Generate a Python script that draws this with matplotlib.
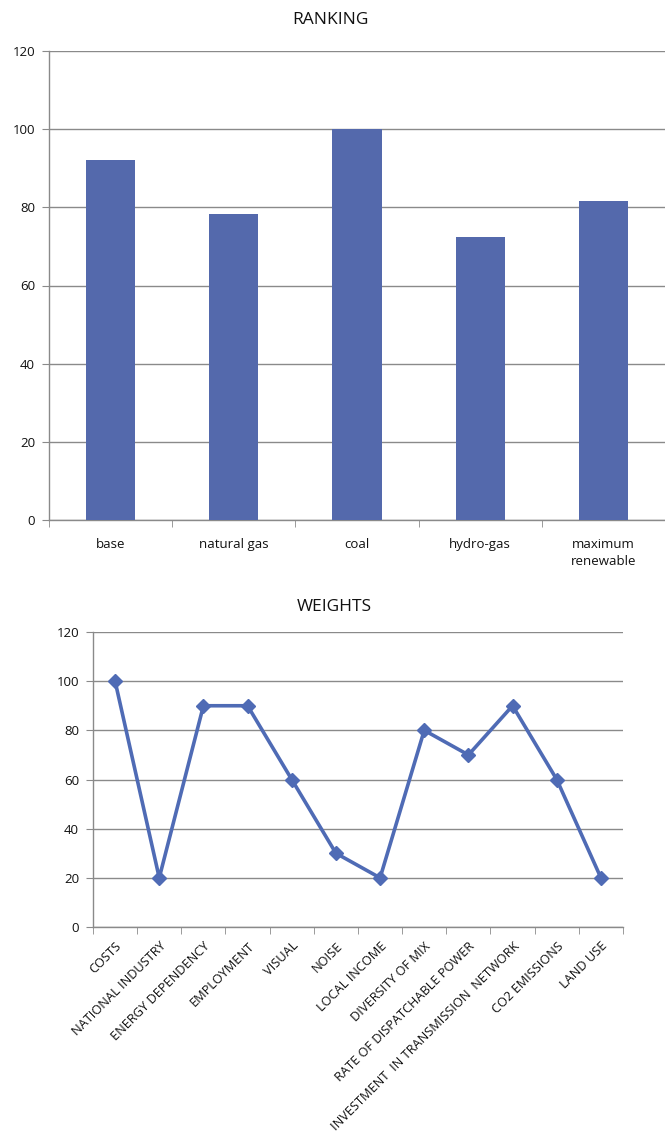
import numpy as np
import matplotlib
matplotlib.use("Agg")
import matplotlib.pyplot as plt

plt.rcParams['font.family'] = ['Open Sans', 'DejaVu Sans']

# ranking of scenarios
scenarios = ['base', 'natural gas', 'coal', 'hydro-gas', 'maximum\nrenewable']
ranking = [92, 78.2, 100, 72.3, 81.6]

# criteria weights
criteria = ['COSTS', 'NATIONAL INDUSTRY', 'ENERGY DEPENDENCY', 'EMPLOYMENT', 'VISUAL',
            'NOISE', 'LOCAL INCOME', 'DIVERSITY OF MIX', 'RATE OF DISPATCHABLE POWER',
            'INVESTMENT  IN TRANSMISSION  NETWORK', 'CO2 EMISSIONS', 'LAND USE']
weights = [100, 20, 90, 90, 60, 30, 20, 80, 70, 90, 60, 20]

W, H = 665, 1146
fig = plt.figure(figsize=(W / 100, H / 100), dpi=100)
grid_c = '#8a8a8a'
txt_c = '#111111'


def style(ax, n):
    ax.set_ylim(0, 120)
    ax.set_yticks(range(0, 121, 20))
    ax.set_xlim(-0.5, n - 0.5)
    ax.yaxis.grid(True, color=grid_c, lw=1)
    ax.set_axisbelow(True)
    for s in ['top', 'right']:
        ax.spines[s].set_visible(False)
    for s in ['left', 'bottom']:
        ax.spines[s].set_color(grid_c)
        ax.spines[s].set_linewidth(1)
    ax.tick_params(axis='y', length=5, color=grid_c, labelsize=9.5, labelcolor=txt_c, pad=5)
    ax.set_xticks(np.arange(n))
    ax.set_xticks(np.arange(n + 1) - 0.5, minor=True)
    ax.tick_params(axis='x', which='major', length=0, labelcolor=txt_c)
    ax.tick_params(axis='x', which='minor', length=5, color=grid_c)


# ---- RANKING ----
ax1 = fig.add_axes([49 / W, 1 - 520 / H, (W - 49) / W, (520 - 51) / H])
style(ax1, len(scenarios))
ax1.bar(np.arange(len(scenarios)), ranking, width=0.4, color='#5469AC', zorder=3)
ax1.set_xticklabels(scenarios, fontsize=9.5)
ax1.tick_params(axis='x', which='major', pad=13)
for lab in ax1.get_xticklabels():
    lab.set_linespacing(1.4)
fig.text(0.497, 1 - 20 / H, 'RANKING', ha='center', va='center', fontsize=12.5, color=txt_c)

# ---- WEIGHTS ----
ax2 = fig.add_axes([93 / W, 1 - 927 / H, (623 - 93) / W, (927 - 632) / H])
style(ax2, len(criteria))
x = np.arange(len(criteria))
ax2.plot(x, weights, color='#4F6BB5', lw=2.6, marker='D', markersize=7, zorder=3, clip_on=False)
ax2.set_xticklabels(criteria, fontsize=9.2, rotation=45, ha='right', va='top',
                    rotation_mode='anchor')
ax2.tick_params(axis='x', which='major', pad=9)
fig.text(0.503, 1 - 607 / H, 'WEIGHTS', ha='center', va='center', fontsize=12.5, color=txt_c)

fig.savefig('out.png', dpi=100)
